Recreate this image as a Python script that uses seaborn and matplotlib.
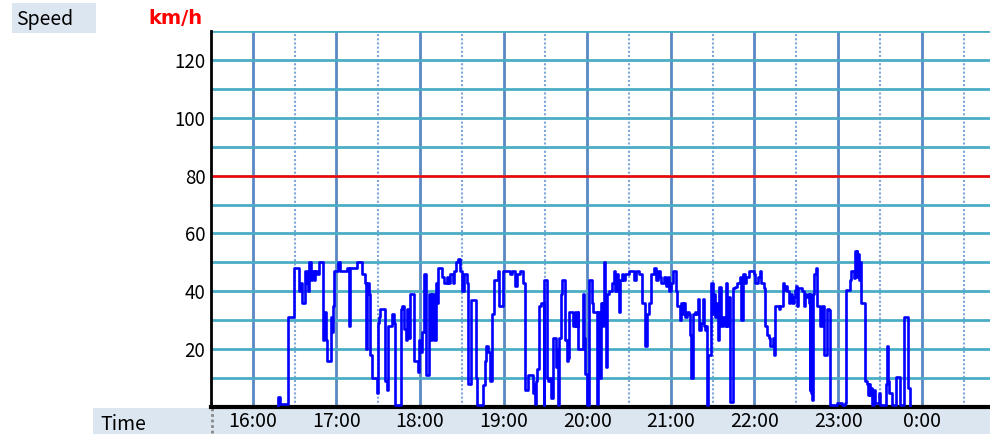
import numpy as np
import pandas as pd
import matplotlib
matplotlib.use("Agg")
import matplotlib.pyplot as plt
import seaborn as sns
from matplotlib.patches import Rectangle
from matplotlib.lines import Line2D

# ---- data: minutes after 16:00, speed in km/h ----
time_min = [18.0, 18.3, 19.5, 23.1, 25.5, 29.5, 33.4, 34.4, 35.6, 37.5, 38.7, 39.9, 40.6, 41.5,
            42.7, 43.9, 44.7, 45.8, 47.5, 49.4, 50.6, 51.4, 52.6, 53.0, 55.9, 56.6, 57.3, 58.3,
            61.4, 62.5, 66.2, 67.9, 69.1, 69.8, 73.4, 74.6, 78.2, 80.6, 81.0, 81.7, 83.4, 84.1,
            85.3, 88.9, 89.6, 90.6, 91.3, 94.9, 96.1, 97.3, 99.7, 101.4, 102.1,
            106.4, 107.4, 108.8, 110.0, 110.7, 111.7, 112.9, 116.0, 118.4, 119.3, 120.8, 121.7,
            122.7, 124.4, 126.5, 127.7, 128.4, 130.3, 131.3, 132.5, 133.2, 135.6, 137.5, 139.2,
            140.4, 141.6, 143.3, 144.7, 145.9, 147.6, 148.8, 150.0, 151.2, 152.4, 153.6, 154.3,
            156.7, 160.0, 160.7, 165.5, 166.7, 167.4, 169.1, 170.3, 171.5, 173.4, 175.6, 176.8,
            179.2, 182.3, 184.2, 185.9, 188.3, 189.4, 191.8,
            193.7, 195.2, 197.8, 200.9, 202.1, 202.8, 203.3, 204.2, 205.7, 206.9, 208.6, 209.3,
            211.0, 211.9, 213.3, 214.1, 215.7, 217.6, 218.6, 219.1, 220.0, 221.0, 222.2, 224.1,
            225.3, 226.5, 227.2, 230.1, 231.3, 232.0, 233.0, 233.7, 236.8, 237.7, 238.5, 239.7,
            240.9, 242.5, 243.3, 244.4, 246.8, 248.0, 248.8, 249.7, 250.4, 251.2, 252.1, 252.8,
            253.5, 254.5, 255.9, 258.1, 259.3, 260.0, 261.2, 262.4, 263.1, 263.6, 264.8, 266.0,
            267.2, 270.3, 272.0, 273.6, 275.1, 276.8, 277.9, 279.1, 281.5, 282.7, 284.6,
            285.9, 287.6, 289.5, 290.7, 291.9, 293.1, 294.8, 296.4, 297.9, 298.8, 299.8, 301.2,
            303.6, 304.3, 306.2, 307.4, 308.4, 309.4, 310.3, 311.5, 312.7, 313.9, 314.6, 315.6,
            317.0, 318.2, 319.4, 320.4, 321.8, 322.8, 323.7, 324.7, 325.4, 325.9, 326.6, 328.7,
            329.9, 330.9, 331.9, 333.0, 333.8, 334.7, 335.7, 337.1, 338.6, 339.5, 340.5, 341.4,
            342.1, 344.4, 346.2, 347.4, 348.6, 349.8, 350.5, 351.5, 352.9, 354.1, 355.8, 359.4,
            360.6, 362.5, 364.2, 364.9, 366.6, 367.3, 369.0, 370.1, 371.3, 372.5, 373.2, 374.2,
            374.7, 377.3, 378.5, 380.4, 381.4, 382.8, 383.3, 384.5, 385.7, 386.9, 388.1, 388.8,
            389.5, 390.4, 391.2, 394.0, 395.2, 395.9, 397.1, 398.1, 398.8, 399.5, 400.0, 400.5,
            401.0, 401.5, 401.9, 402.9, 404.3, 404.8, 406.7, 408.4, 410.1, 412.0, 413.2, 413.9,
            419.2, 422.7, 425.1, 425.9, 428.7, 429.4, 431.1, 431.8, 432.8, 433.3, 433.8, 434.2,
            435.0, 435.9, 436.4, 439.5, 440.7, 441.2, 441.9, 442.6, 443.6, 444.3, 445.5, 446.7,
            449.1, 449.8, 454.6, 455.1, 455.8, 456.7, 458.6, 461.8, 464.6, 467.0, 470.1, 471.3]

speed_kmh = [0, 3.5, 1, 1, 31, 48, 40, 43, 36, 47, 43, 40, 50, 44,
             47, 44, 47, 46, 50, 50, 23, 33, 23, 16, 31, 26, 35, 47,
             50, 47, 47, 48, 28, 48, 48, 50, 46, 43, 20, 43, 39, 18,
             10, 5, 29, 31, 34, 9, 6, 28, 32, 29, 0.6,
             34, 35, 27, 23, 34, 24, 39, 16, 12, 23, 19, 26,
             46, 11, 39, 23, 39, 23, 43, 36, 48, 45, 43, 45,
             43, 46, 43, 47, 50, 51, 47, 40, 46, 46, 43, 8,
             37, 10, 0.6, 7.5, 16, 21, 19, 9, 32, 44, 47, 35,
             47, 47, 46, 47, 42, 46, 47,
             43, 6, 11, 5, 8, 1, 9, 13, 35, 36, 0.6, 44,
             10, 9, 10, 3, 24, 14, 20, 0.6, 24, 39, 44, 23,
             16, 17, 33, 28, 33, 28, 33, 20, 39, 24, 11.5, 0.6,
             44, 44, 36, 33, 1, 33, 10, 36, 28, 36, 50, 28,
             14, 39, 40, 43, 47, 40, 46, 41.5, 33, 44, 46, 44,
             46, 47, 47, 44, 47, 46, 46, 36, 21, 32, 36,
             46, 48, 44, 47, 45, 43, 45, 42, 45, 40, 43, 47,
             40, 35, 30, 36, 32, 36, 31, 33, 32, 25, 10, 32,
             33, 32, 37.5, 26.5, 29, 37.5, 28, 26.5, 28, 0.6, 18, 43,
             32, 39, 31, 36, 23, 41.5, 28, 31, 28, 43, 28, 38,
             1.7, 41, 41.5, 43, 43, 45, 30, 46, 43, 45, 47, 46,
             43, 45, 47, 43, 41, 28, 25, 24, 21, 21, 24, 18,
             35, 34, 35, 43, 40.5, 42, 40, 36, 39, 36, 38, 40.5,
             42, 35, 41, 40, 35, 39, 38, 39, 36, 6, 39, 5,
             38, 2.4, 39, 46, 48, 35, 28, 35, 18, 34, 33.6, 0.7,
             1.3, 0.7, 1.3, 40.5, 44, 47, 44.5, 54, 46, 54, 45, 53,
             44, 50, 36, 9, 8, 4, 8, 4, 6.5, 0.7, 6, 1.3,
             5, 0.7, 8, 21, 9, 5, 0.7, 10.5, 0.7, 31, 6.5, 0]

hour_positions = [0, 60, 120, 180, 240, 300, 360, 420, 480]
hour_labels = ["16:00", "17:00", "18:00", "19:00", "20:00", "21:00", "22:00", "23:00", "0:00"]
half_hour_positions = [30, 90, 150, 210, 270, 330, 390, 450, 510]
y_major = [20, 40, 60, 80, 100, 120]
y_minor = [10, 30, 50, 70, 90, 110, 130]
speed_limit = 80

df = pd.DataFrame({"t": time_min, "v": speed_kmh})

sns.set_theme(style="white")
plt.rcParams['font.family'] = ['Noto Sans CJK JP', 'DejaVu Sans']

W, H = 990, 434
fig = plt.figure(figsize=(W / 100, H / 100), dpi=100)
fig.patch.set_facecolor("white")


def fx(px):
    return px / W


def fy(py):
    return 1 - py / H


band_color = "#DCE6F1"
fig.patches.append(Rectangle((fx(93), 0), fx(990) - fx(93), fy(408), transform=fig.transFigure,
                             facecolor=band_color, edgecolor="none", zorder=-2))
fig.patches.append(Rectangle((fx(12), fy(33)), fx(96) - fx(12), fy(3) - fy(33), transform=fig.transFigure,
                             facecolor=band_color, edgecolor="none", zorder=-2))
fig.lines.append(Line2D([fx(211.5), fx(211.5)], [fy(408), fy(434)], transform=fig.transFigure,
                        color="#888888", lw=2, ls=(0, (1, 1)), zorder=-1))

ax = fig.add_axes([fx(211), fy(407), fx(990) - fx(211), fy(31) - fy(407)])
ax.set_zorder(1)
ax.set_facecolor("white")
ax.set_axisbelow(True)

sns.lineplot(data=df, x="t", y="v", drawstyle="steps-post", color="#0000FF", linewidth=1.9,
             estimator=None, sort=False, ax=ax, zorder=3)
ax.axhline(speed_limit, color="#FF0000", lw=1.8, zorder=2)

ax.set_xlim(-30, 529)
ax.set_ylim(0, 130)
ax.set_xticks(hour_positions)
ax.set_xticklabels(hour_labels)
ax.set_xticks(half_hour_positions, minor=True)
ax.set_yticks(y_major)
ax.set_yticklabels([str(v) for v in y_major])
ax.set_yticks(y_minor, minor=True)
ax.set_xlabel("")
ax.set_ylabel("")

ax.grid(False)
ax.yaxis.grid(True, which="both", color="#4BACC6", lw=2)
ax.xaxis.grid(True, which="major", color="#5A88C4", lw=2)
ax.xaxis.grid(True, which="minor", color="#7FA6D8", lw=1.5, ls=(0, (1, 1)))

ax.tick_params(axis="both", which="both", length=0, colors="black")
ax.tick_params(axis="x", pad=3, labelsize=14)
ax.tick_params(axis="y", pad=4, labelsize=13.5)

for s in ["top", "right"]:
    ax.spines[s].set_visible(False)
ax.spines["left"].set_color("black")
ax.spines["left"].set_linewidth(2)
ax.spines["bottom"].set_color("black")
ax.spines["bottom"].set_linewidth(3)

fig.text(fx(16), fy(20), "Speed", ha="left", va="center", fontsize=14, color="black")
fig.text(fx(148), fy(19), "km/h", ha="left", va="center", fontsize=14, color="#FF0000",
         fontweight="bold", family=["DejaVu Sans", "Noto Sans CJK JP"])
fig.text(fx(100), fy(424), "Time", ha="left", va="center", fontsize=14, color="black")

fig.savefig("out.png", dpi=100, facecolor="white")
